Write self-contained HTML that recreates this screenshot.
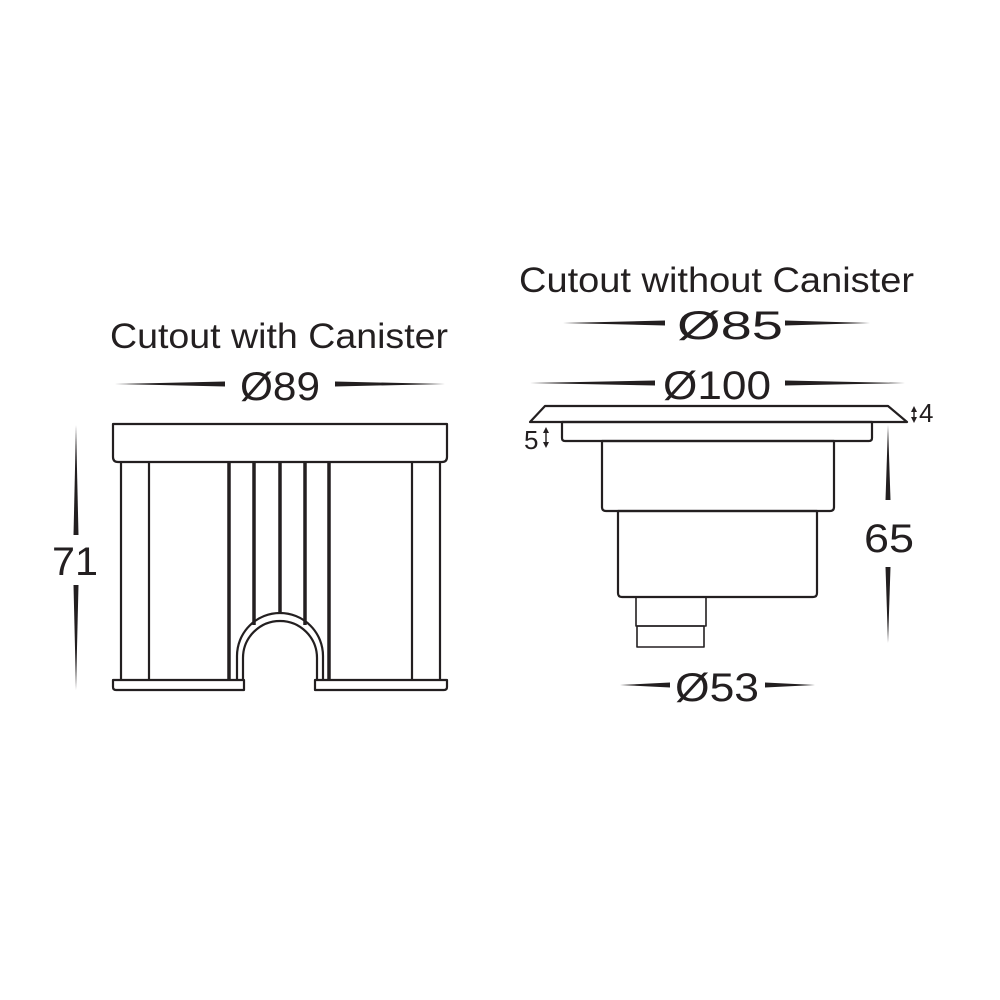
<!DOCTYPE html>
<html><head><meta charset="utf-8"><style>
html,body{margin:0;padding:0;background:#fff;}
svg{display:block;}
text{font-family:"Liberation Sans",sans-serif;fill:#231f20;}
</style></head><body>
<svg width="1000" height="1000" viewBox="0 0 1000 1000" xmlns="http://www.w3.org/2000/svg">
<rect width="1000" height="1000" fill="#fff"/>
<g fill="#231f20">
<polygon points="115,384 225,381.5 225,386.5"/>
<polygon points="445,384 335,381.5 335,386.5"/>
<polygon points="563,323 665,320.5 665,325.5"/>
<polygon points="870,323 785,320.5 785,325.5"/>
<polygon points="530,383 655,380.5 655,385.5"/>
<polygon points="905,383 785,380.5 785,385.5"/>
<polygon points="620,685 670,682.5 670,687.5"/>
<polygon points="815,685 765,682.5 765,687.5"/>
<polygon points="76,425 73.5,535 78.5,535"/>
<polygon points="76,690 73.5,585 78.5,585"/>
<polygon points="888,425 885.5,500 890.5,500"/>
<polygon points="888,643 885.5,567 890.5,567"/>
<polygon points="546,427 543,433 549,433"/><polygon points="546,448 543,442 549,442"/><rect x="545.3" y="432" width="1.4" height="11"/>
<polygon points="914,406 911,412 917,412"/><polygon points="914,423 911,417 917,417"/><rect x="913.3" y="411" width="1.4" height="7"/>
</g>
<text x="110" y="348" font-size="35" textLength="338" lengthAdjust="spacingAndGlyphs">Cutout with Canister</text>
<text x="240" y="400" font-size="40" textLength="80" lengthAdjust="spacingAndGlyphs">Ø89</text>
<text x="519" y="292" font-size="35" textLength="395" lengthAdjust="spacingAndGlyphs">Cutout without Canister</text>
<text x="677" y="339" font-size="40" textLength="106" lengthAdjust="spacingAndGlyphs">Ø85</text>
<text x="663" y="399" font-size="40" textLength="108" lengthAdjust="spacingAndGlyphs">Ø100</text>
<text x="675" y="701" font-size="40" textLength="84" lengthAdjust="spacingAndGlyphs">Ø53</text>
<text x="52" y="575" font-size="40" textLength="46" lengthAdjust="spacingAndGlyphs">71</text>
<text x="864" y="552" font-size="40" textLength="50" lengthAdjust="spacingAndGlyphs">65</text>
<text x="524" y="449" font-size="26">5</text>
<text x="919" y="422" font-size="26">4</text>

<g fill="none" stroke="#231f20" stroke-width="2.2" stroke-linejoin="round">
<path d="M113,424 H447 V457 Q447,462 442,462 H118 Q113,462 113,457 Z"/>
<line x1="121" y1="462" x2="121" y2="680"/>
<line x1="149" y1="462" x2="149" y2="680"/>
<line x1="412" y1="462" x2="412" y2="680"/>
<line x1="440" y1="462" x2="440" y2="680"/>
<path d="M113,680 H244 V690 H116 Q113,690 113,687 Z"/>
<path d="M447,680 H315 V690 H444 Q447,690 447,687 Z"/>
<path d="M237,680 V656 A43,43 0 0 1 323,656 V680"/>
<path d="M243,680 V658 A37,37 0 0 1 317,658 V680"/>
<path d="M545,406 H888 L907,422 H530 Z"/>
<path d="M562,422 H872 V438 Q872,441 869,441 H565 Q562,441 562,438 Z"/>
<path d="M602,441 H834 V507 Q834,511 830,511 H606 Q602,511 602,507 Z"/>
<path d="M618,511 H817 V593 Q817,597 813,597 H622 Q618,597 618,593 Z"/>
<path d="M636,597 H706 V626 H636 Z" stroke-width="1.6"/>
<path d="M637,626 H704 V647 H637 Z" stroke-width="1.6"/>
</g>
<g stroke="#231f20" stroke-width="3.5">
<line x1="229" y1="462" x2="229" y2="680"/>
<line x1="254" y1="462" x2="254" y2="625"/>
<line x1="280" y1="462" x2="280" y2="614"/>
<line x1="305" y1="462" x2="305" y2="625"/>
<line x1="329" y1="462" x2="329" y2="680"/>
</g>
</svg>
</body></html>
